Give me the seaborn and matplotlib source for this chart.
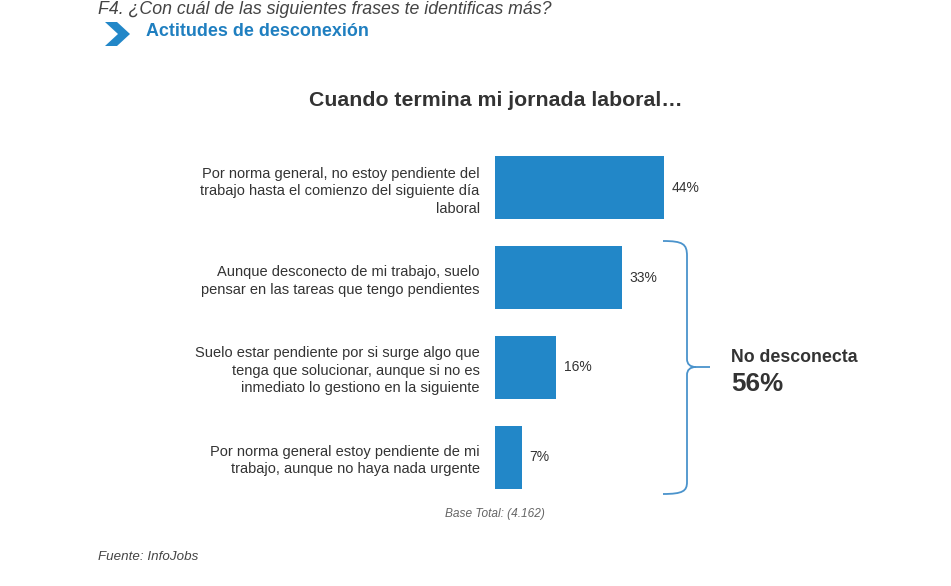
import matplotlib
matplotlib.use("Agg")
import matplotlib.pyplot as plt
import seaborn as sns
import pandas as pd
from matplotlib.path import Path
from matplotlib.patches import PathPatch, Polygon

categories = [
    "Por norma general, no estoy pendiente del\ntrabajo hasta el comienzo del siguiente día\nlaboral",
    "Aunque desconecto de mi trabajo, suelo\npensar en las tareas que tengo pendientes",
    "Suelo estar pendiente por si surge algo que\ntenga que solucionar, aunque si no es\ninmediato lo gestiono en la siguiente",
    "Por norma general estoy pendiente de mi\ntrabajo, aunque no haya nada urgente",
]
values = [44, 33, 16, 7]
group_label = "No desconecta"
group_value = "56%"

title = "Cuando termina mi jornada laboral…"
question = "F4. ¿Con cuál de las siguientes frases te identificas más?"
section = "Actitudes de desconexión"
base_note = "Base Total: (4.162)"
source = "Fuente: InfoJobs"

BLUE = "#2287c8"
TEXT = "#333333"

sns.set_theme(style="white")
plt.rcParams["font.family"] = ["Liberation Sans", "DejaVu Sans"]

W, H = 951, 586
fig = plt.figure(figsize=(W / 100, H / 100), dpi=100)
fig.patch.set_facecolor("white")

# axes placement in pixels
ax_left, ax_top, ax_w, ax_h = 495, 143, 192, 359
ax = fig.add_axes([ax_left / W, (H - ax_top - ax_h) / H, ax_w / W, ax_h / H])

df = pd.DataFrame({"cat": categories, "val": values})
sns.barplot(data=df, x="val", y="cat", orient="h", color=BLUE, saturation=1,
            width=0.7, ax=ax, edgecolor="none")
ax.set_xlim(0, 50)
ax.set_ylim(3.5, -0.5)
ax.set_xlabel("")
ax.set_ylabel("")
ax.set_xticks([])
for s in ax.spines.values():
    s.set_visible(False)
ax.tick_params(axis="y", length=0, pad=11, labelsize=10.5, labelcolor=TEXT)
for t in ax.get_yticklabels():
    t.set_linespacing(1.33)
ax.set_facecolor("none")

for i, v in enumerate(values):
    ax.text(v + 2.0, i, f"{v}%", va="center", ha="left", fontsize=10,
            color=TEXT, clip_on=False)

# overlay in pixel coordinates
ov = fig.add_axes([0, 0, 1, 1], zorder=-1)
ov.set_xlim(0, W)
ov.set_ylim(H, 0)
ov.axis("off")

ov.text(98, 9, question, ha="left", va="center", fontsize=12.8, style="italic",
        color="#444444")
ov.add_patch(Polygon([(105, 22), (117, 22), (130, 34), (117, 46), (105, 46), (118, 34)],
                     closed=True, facecolor=BLUE, edgecolor="none"))
ov.text(146, 32, section, ha="left", va="center", fontsize=12.9, fontweight="bold",
        color="#1f7fc0")

ov.text(496, 100, title, ha="center", va="center", fontsize=15.3, fontweight="bold",
        color=TEXT)

verts = [
    (663, 241), (683, 241), (687, 244), (687, 256),
    (687, 359),
    (687, 364), (690, 367), (696, 367),
    (710, 367),
    (696, 367),
    (690, 367), (687, 370), (687, 375),
    (687, 482),
    (687, 491), (683, 494), (663, 494),
]
codes = [Path.MOVETO, Path.CURVE4, Path.CURVE4, Path.CURVE4,
         Path.LINETO,
         Path.CURVE4, Path.CURVE4, Path.CURVE4,
         Path.LINETO,
         Path.MOVETO,
         Path.CURVE4, Path.CURVE4, Path.CURVE4,
         Path.LINETO,
         Path.CURVE4, Path.CURVE4, Path.CURVE4]
ov.add_patch(PathPatch(Path(verts, codes), facecolor="none", edgecolor="#4a93cc", lw=1.3))

ov.text(731, 357, group_label, ha="left", va="center", fontsize=12.8, fontweight="bold",
        color=TEXT)
ov.text(731, 384, group_value, ha="left", va="center", fontsize=18.7, fontweight="bold",
        color=TEXT)

ov.text(495, 514, base_note, ha="center", va="center", fontsize=8.6, style="italic",
        color="#666666")
ov.text(98, 557, source, ha="left", va="center", fontsize=9.6, style="italic",
        color="#444444")

fig.savefig("out.png", dpi=100, facecolor="white")
